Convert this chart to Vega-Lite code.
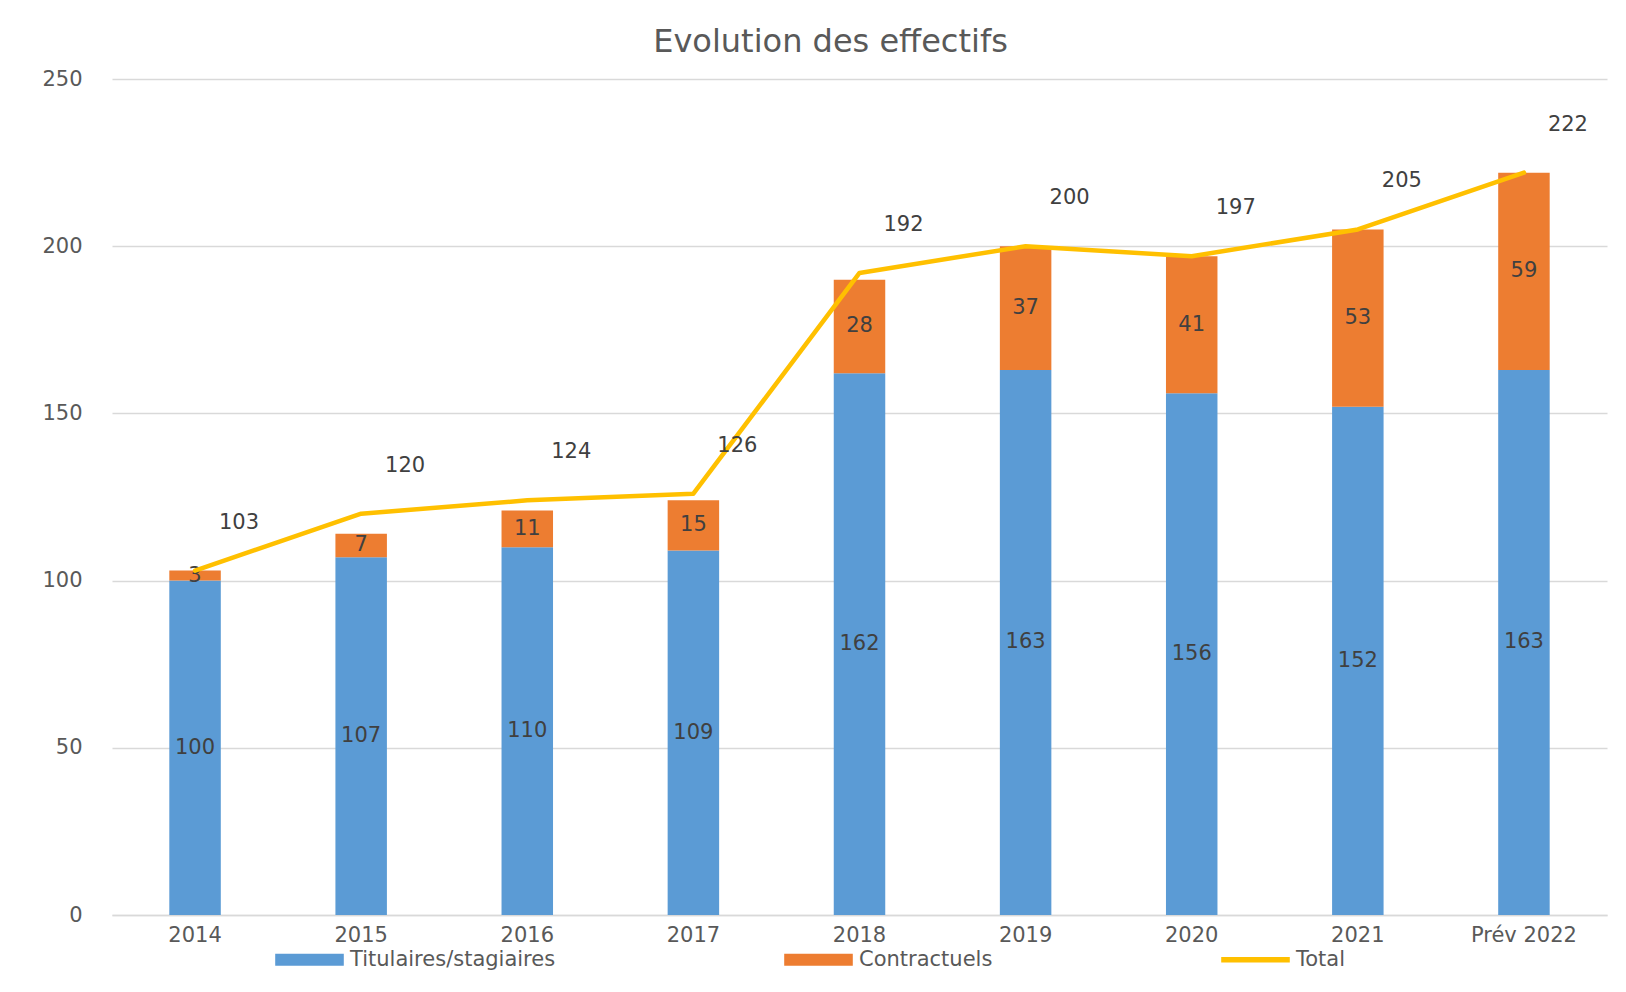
{
  "$schema": "https://vega.github.io/schema/vega-lite/v6.json",
  "width": 1495,
  "height": 836,
  "autosize": {"type": "none"},
  "padding": {"left": 112, "top": 79, "right": 19, "bottom": 77},
  "background": "white",
  "title": {
    "text": "Evolution des effectifs",
    "font": "DejaVu Sans",
    "fontSize": 32,
    "fontWeight": "normal",
    "color": "#595959",
    "anchor": "middle",
    "offset": 9,
    "dx": -29
  },
  "config": {
    "font": "DejaVu Sans",
    "view": {"stroke": null}
  },
  "datasets": {
    "effectifs": [
      {"annee": "2014", "serie": "Titulaires/stagiaires", "valeur": 100},
      {"annee": "2014", "serie": "Contractuels", "valeur": 3},
      {"annee": "2015", "serie": "Titulaires/stagiaires", "valeur": 107},
      {"annee": "2015", "serie": "Contractuels", "valeur": 7},
      {"annee": "2016", "serie": "Titulaires/stagiaires", "valeur": 110},
      {"annee": "2016", "serie": "Contractuels", "valeur": 11},
      {"annee": "2017", "serie": "Titulaires/stagiaires", "valeur": 109},
      {"annee": "2017", "serie": "Contractuels", "valeur": 15},
      {"annee": "2018", "serie": "Titulaires/stagiaires", "valeur": 162},
      {"annee": "2018", "serie": "Contractuels", "valeur": 28},
      {"annee": "2019", "serie": "Titulaires/stagiaires", "valeur": 163},
      {"annee": "2019", "serie": "Contractuels", "valeur": 37},
      {"annee": "2020", "serie": "Titulaires/stagiaires", "valeur": 156},
      {"annee": "2020", "serie": "Contractuels", "valeur": 41},
      {"annee": "2021", "serie": "Titulaires/stagiaires", "valeur": 152},
      {"annee": "2021", "serie": "Contractuels", "valeur": 53},
      {"annee": "Prév 2022", "serie": "Titulaires/stagiaires", "valeur": 163},
      {"annee": "Prév 2022", "serie": "Contractuels", "valeur": 59}
    ],
    "total": [
      {"annee": "2014", "total": 103},
      {"annee": "2015", "total": 120},
      {"annee": "2016", "total": 124},
      {"annee": "2017", "total": 126},
      {"annee": "2018", "total": 192},
      {"annee": "2019", "total": 200},
      {"annee": "2020", "total": 197},
      {"annee": "2021", "total": 205},
      {"annee": "Prév 2022", "total": 222}
    ]
  },
  "encoding": {
    "x": {
      "field": "annee",
      "type": "nominal",
      "sort": null,
      "title": null,
      "scale": {"paddingInner": 0.69, "paddingOuter": 0.345},
      "axis": {
        "labelAngle": 0,
        "labelColor": "#595959",
        "labelFontSize": 21,
        "labelPadding": 9,
        "ticks": false,
        "domain": true,
        "domainColor": "#D9D9D9",
        "domainWidth": 1.5
      }
    }
  },
  "layer": [
    {
      "data": {"name": "effectifs"},
      "transform": [
        {
          "stack": "valeur",
          "groupby": ["annee"],
          "sort": [{"field": "serie", "order": "descending"}],
          "as": ["bas", "haut"]
        }
      ],
      "mark": {"type": "bar"},
      "encoding": {
        "y": {
          "field": "bas",
          "type": "quantitative",
          "title": null,
          "scale": {"domain": [0, 250], "nice": false},
          "axis": {
            "values": [0, 50, 100, 150, 200, 250],
            "grid": true,
            "gridColor": "#D9D9D9",
            "gridWidth": 1.5,
            "domain": false,
            "ticks": false,
            "labelColor": "#595959",
            "labelFontSize": 21,
            "labelPadding": 30
          }
        },
        "y2": {"field": "haut"},
        "color": {
          "field": "serie",
          "type": "nominal",
          "scale": {
            "domain": ["Titulaires/stagiaires", "Contractuels", "Total"],
            "range": ["#5B9BD5", "#ED7D31", "#FFC000"]
          },
          "legend": {
            "title": null,
            "orient": "none",
            "direction": "horizontal",
            "legendX": 163,
            "legendY": 846,
            "columnPadding": 225,
            "labelFontSize": 21,
            "labelColor": "#595959",
            "labelLimit": 500,
            "labelOffset": 6,
            "symbolSize": 4500,
            "encode": {
              "symbols": {
                "update": {
                  "shape": {"signal": "datum.value === 'Total' ? 'M-1,-0.06H1V0.06H-1Z' : 'M-1,-0.16H1V0.16H-1Z'"},
                  "fill": {"scale": "color", "field": "value"},
                  "stroke": {"value": "transparent"},
                  "opacity": {"value": 1}
                }
              }
            }
          }
        }
      }
    },
    {
      "data": {"name": "effectifs"},
      "transform": [
        {
          "stack": "valeur",
          "groupby": ["annee"],
          "sort": [{"field": "serie", "order": "descending"}],
          "as": ["bas", "haut"]
        },
        {"calculate": "(datum.bas + datum.haut) / 2", "as": "milieu"}
      ],
      "mark": {"type": "text", "fontSize": 21, "color": "#404040", "baseline": "middle", "align": "center"},
      "encoding": {
        "y": {"field": "milieu", "type": "quantitative"},
        "text": {"field": "valeur", "type": "quantitative"}
      }
    },
    {
      "data": {"name": "total"},
      "mark": {"type": "line", "strokeWidth": 4.5, "strokeCap": "round", "strokeJoin": "round"},
      "encoding": {
        "y": {"field": "total", "type": "quantitative"},
        "color": {"datum": "Total"}
      }
    },
    {
      "data": {"name": "total"},
      "mark": {"type": "text", "fontSize": 21, "color": "#404040", "baseline": "middle", "align": "center", "dx": 44, "dy": -48},
      "encoding": {
        "y": {"field": "total", "type": "quantitative"},
        "text": {"field": "total", "type": "quantitative"}
      }
    }
  ]
}
